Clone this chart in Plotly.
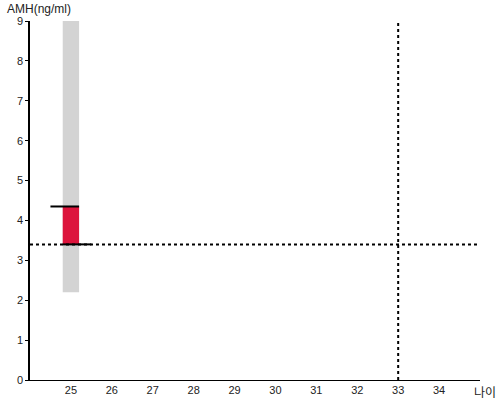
import plotly.graph_objects as go

# 나이 / AMH 데이터
age = [25]
amh_low = [2.2]
amh_high = [9.0]
my_low = [3.4]
my_high = [4.35]
ref_age = 33
ref_amh = 3.4
x_ticks = [25, 26, 27, 28, 29, 30, 31, 32, 33, 34]
y_ticks = [0, 1, 2, 3, 4, 5, 6, 7, 8, 9]

fig = go.Figure()

# 범위 막대 (회색)
fig.add_trace(go.Bar(x=age, base=amh_low, y=[h - l for h, l in zip(amh_high, amh_low)],
                     width=0.4, marker=dict(color="#d3d3d3", line=dict(width=0)),
                     hoverinfo="skip"))
# 내 수치 (빨강)
fig.add_trace(go.Bar(x=age, base=my_low, y=[h - l for h, l in zip(my_high, my_low)],
                     width=0.4, marker=dict(color="#dc143c", line=dict(width=0)),
                     hoverinfo="skip"))

# 기준 점선
fig.add_trace(go.Scatter(x=[24, 35], y=[ref_amh, ref_amh], mode="lines",
                         line=dict(color="black", width=2, dash="dot"), hoverinfo="skip"))
fig.add_trace(go.Scatter(x=[ref_age, ref_age], y=[0, 9], mode="lines",
                         line=dict(color="black", width=2, dash="dot"), hoverinfo="skip"))

# 상단/하단 표시선
a = age[0]
fig.add_trace(go.Scatter(x=[a - 0.5, a + 0.2], y=[my_high[0]] * 2, mode="lines",
                         line=dict(color="black", width=2), hoverinfo="skip"))
fig.add_trace(go.Scatter(x=[a - 0.2, a + 0.5], y=[my_low[0]] * 2, mode="lines",
                         line=dict(color="black", width=2), hoverinfo="skip"))

fig.update_layout(
    width=500, height=400,
    margin=dict(l=30, r=20, t=21, b=20),
    paper_bgcolor="white", plot_bgcolor="white",
    showlegend=False, barmode="overlay",
    font=dict(family="Liberation Sans, Arial", size=11, color="#222"),
)
fig.update_xaxes(range=[24, 35], tickvals=x_ticks, showgrid=False, zeroline=False,
                 showline=True, linecolor="black", linewidth=1, ticks="",
                 ticklen=0, fixedrange=True, automargin=False)
fig.update_yaxes(range=[0, 9], tickvals=y_ticks, showgrid=False, zeroline=False,
                 showline=True, linecolor="black", linewidth=1.5, ticks="outside",
                 ticklen=3, tickcolor="black", fixedrange=True, automargin=False)

fig.add_annotation(text="AMH(ng/ml)", xref="paper", yref="paper", x=0, y=1,
                   xanchor="left", yanchor="bottom", xshift=-25, yshift=3,
                   showarrow=False, font=dict(size=12, color="#222"))
fig.add_annotation(text="나이", xref="paper", yref="paper", x=1, y=0,
                   xanchor="left", yanchor="middle", xshift=-7, yshift=-11,
                   borderpad=0, showarrow=False,
                   font=dict(family="Noto Sans CJK KR", size=12, color="#222"))

# 페이지 기본 여백 제거
fig.write_html("out.html", config={"displayModeBar": False},
               post_script="document.body.style.margin='0';")
